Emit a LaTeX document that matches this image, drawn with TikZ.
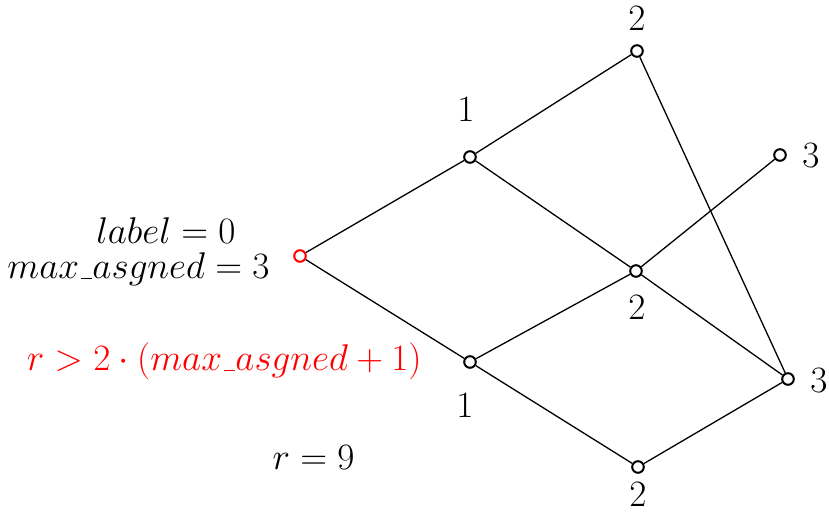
\RequirePackage{fix-cm}
\documentclass[tikz,border=0pt]{standalone}
\newcommand\myus{\mbox{\kern.06em\vbox{\hrule width .3em height 0.55pt}}}
\begin{document}
\begin{tikzpicture}[x=0.5pt,y=-0.5pt,
  vtx/.style={circle,draw,line width=1pt,minimum size=5.8pt,inner sep=0pt,fill=white},
  edge/.style={line width=0.65pt},
  txt/.style={inner sep=0pt,font=\fontsize{18.6}{22}\selectfont}]
\useasboundingbox (0,0) rectangle (829,512);
\node[vtx,draw=red] (R) at (300,256) {};
\node[vtx] (A) at (470,157) {};
\node[vtx] (B) at (470,362) {};
\node[vtx] (C) at (637,51) {};
\node[vtx] (D) at (636,271) {};
\node[vtx] (E) at (780,155) {};
\node[vtx] (F) at (788,379) {};
\node[vtx] (G) at (638,467) {};
\draw[edge] (R) -- (A);
\draw[edge] (R) -- (B);
\draw[edge] (A) -- (C);
\draw[edge] (A) -- (D);
\draw[edge] (B) -- (D);
\draw[edge] (B) -- (G);
\draw[edge] (C) -- (F);
\draw[edge] (D) -- (E);
\draw[edge] (D) -- (F);
\draw[edge] (G) -- (F);
\node[txt] (lA) at (466,110) {$1$};
\node[txt] (lB) at (465,406) {$1$};
\node[txt] (lC) at (637,19) {$2$};
\node[txt] (lD) at (637,308) {$2$};
\node[txt] (lE) at (811,156) {$3$};
\node[txt] (lF) at (819,381) {$3$};
\node[txt] (lG) at (638,495) {$2$};
\node[txt,anchor=base east] (t1) at (236,244) {$label=0$};
\node[txt,anchor=base east] (t2) at (270,279) {$max\myus asgned=3$};
\node[txt,anchor=base east,text=red] (t3) at (422,371) {$r>2\cdot(max\myus asgned+1)$};
\node[txt,anchor=base east] (t4) at (355,470) {$r=9$};
\end{tikzpicture}
\end{document}
